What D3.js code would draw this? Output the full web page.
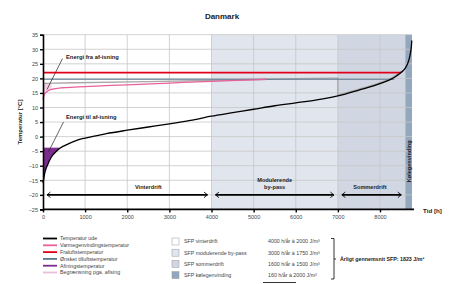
<!DOCTYPE html>
<html>
<head>
<meta charset="utf-8">
<script src="https://cdn.jsdelivr.net/npm/d3@7"></script>
<style>
  body { margin: 0; background: #fff; }
  svg { font-family: "Liberation Sans", Arial, sans-serif; }
</style>
</head>
<body>
<svg id="chart" width="457" height="284"></svg>
<script>
// Data
const HOURS = [0, 50, 100, 200, 300, 400, 600, 800, 1000, 1500, 2000, 2500, 3000, 3500, 4000, 4500, 5000, 5500, 6000, 6500, 7000, 7500, 8000, 8300, 8500, 8600, 8680, 8720, 8745, 8755];
const TEMP_UDE = [-16, -12, -10, -7, -5.3, -4, -2.5, -1.3, -0.5, 1.0, 2.2, 3.3, 4.4, 5.6, 7.0, 8.2, 9.4, 10.6, 11.6, 12.6, 14.0, 16.0, 18.2, 20.0, 22.0, 23.5, 26, 28.5, 31, 33];

const VGV_HOURS = [0, 30, 100, 200, 500, 1000, 2000, 3000, 4000, 5000, 5300];
const VGV_TEMP = [12.8, 14.5, 15.5, 16.2, 16.8, 17.2, 17.8, 18.4, 19.0, 19.5, 19.7];

const GREY_HOURS = [0, 2500, 5000, 6000, 7000];
const GREY_TEMP = [18.3, 18.9, 19.6, 19.9, 20.1];

const FRALUFT = { temp: 22, end: 8500 };
const ONSKET = { temp: 19.7, end: 8340 };
const AFISNING = { temp: -4, end: 400 };
const BEGR_END = 350;

const PERIODS = [
  { name: ['Vinterdrift'], from: 0, to: 4000, label: 2500 },
  { name: ['Modulerende', 'by-pass'], from: 4000, to: 7000, label: 5500 },
  { name: ['Sommerdrift'], from: 7000, to: 8600, label: 7760 },
];
const BANDS = [
  { from: 4000, to: 7000, fill: '#e1e5ed' },
  { from: 7000, to: 8600, fill: '#d0d7e2' },
  { from: 8600, to: 8760, fill: '#93a7be' },
];

const X_TICKS = [0, 1000, 2000, 3000, 4000, 5000, 6000, 7000, 8000];
const Y_TICKS = [-25, -20, -15, -10, -5, 0, 5, 10, 15, 20, 25, 30, 35];

const LINE_LEGEND = [
  { label: 'Temperatur ude', color: '#000' },
  { label: 'Varmegenvindingstemperatur', color: '#e8609c' },
  { label: 'Fraluftstemperatur', color: '#e2001a' },
  { label: 'Ønsket tilluftstemperatur', color: '#5b7890' },
  { label: 'Afiningstemperatur', color: '#7b2d8e' },
  { label: 'Begrænsning pga. afising', color: '#e9bddb' },
];
const SFP_LEGEND = [
  { label: 'SFP vinterdrift', fill: '#fff', value: '4000 h/år  à 2000 J/m³' },
  { label: 'SFP modulerende by-pass', fill: '#e1e5ed', value: '3000 h/år  à 1750 J/m³' },
  { label: 'SFP sommerdrift', fill: '#d0d7e2', value: '1600 h/år  à 1500 J/m³' },
  { label: 'SFP kølegenvinding', fill: '#93a7be', value: '160 h/år  à 2000 J/m³' },
];

const svg = d3.select('#chart');
const x = d3.scaleLinear([0, 8760], [43, 412]);
const y = d3.scaleLinear([-25, 35], [209.4, 34.7]);

// Shaded bands
svg.append('g').selectAll('rect').data(BANDS).join('rect')
  .attr('x', d => x(d.from)).attr('width', d => x(d.to) - x(d.from))
  .attr('y', y(35)).attr('height', y(-25) - y(35))
  .attr('fill', d => d.fill);

// Grid
const grid = svg.append('g').attr('stroke', '#c6c6c6').attr('stroke-width', 0.8);
grid.selectAll('.gx').data(X_TICKS.filter(d => d > 0)).join('line')
  .attr('x1', d => x(d)).attr('x2', d => x(d)).attr('y1', y(35)).attr('y2', y(-25));
grid.selectAll('.gy').data(Y_TICKS.filter(d => d > -25)).join('line')
  .attr('x1', x(0)).attr('x2', x(8760)).attr('y1', d => y(d)).attr('y2', d => y(d));

const ude = HOURS.map((h, i) => [h, TEMP_UDE[i]]);
const line = d3.line().x(d => x(d[0])).y(d => y(d[1])).curve(d3.curveMonotoneX);

// Begrænsning area
const vgv = VGV_HOURS.map((h, i) => [h, VGV_TEMP[i]]);
const begr = vgv.filter(d => d[0] <= BEGR_END);
svg.append('path')
  .datum(begr)
  .attr('d', d3.area().x(d => x(d[0])).y0(d => y(d[1])).y1(y(GREY_TEMP[0])).curve(d3.curveMonotoneX))
  .attr('fill', '#f3cfe3');

// Afisning area
const afis = ude.filter(d => d[0] <= AFISNING.end);
svg.append('path')
  .datum(afis)
  .attr('d', d3.area().x(d => x(d[0])).y0(d => y(d[1])).y1(y(AFISNING.temp)).curve(d3.curveMonotoneX))
  .attr('fill', '#7b2d8e');
svg.append('line')
  .attr('x1', x(0)).attr('x2', x(AFISNING.end)).attr('y1', y(AFISNING.temp)).attr('y2', y(AFISNING.temp))
  .attr('stroke', '#7b2d8e').attr('stroke-width', 1.2);

// Grey line (tilluft after recovery)
const grey = GREY_HOURS.map((h, i) => [h, GREY_TEMP[i]]);
const greyTail = ude.filter(d => d[0] >= 7000 && d[0] <= 8500).map(d => [d[0], d[1] + 0.3]);
svg.append('path')
  .attr('d', line(grey) + 'L' + x(7000) + ',' + y(greyTail[0][1]) + line(greyTail).replace(/^M/, 'L'))
  .attr('fill', 'none').attr('stroke', '#a8a8a8').attr('stroke-width', 1.4);

// Horizontal lines
svg.append('line')
  .attr('x1', x(0)).attr('x2', x(ONSKET.end)).attr('y1', y(ONSKET.temp)).attr('y2', y(ONSKET.temp))
  .attr('stroke', '#5b7890').attr('stroke-width', 1.2);
svg.append('line')
  .attr('x1', x(0)).attr('x2', x(FRALUFT.end)).attr('y1', y(FRALUFT.temp)).attr('y2', y(FRALUFT.temp))
  .attr('stroke', '#e2001a').attr('stroke-width', 1.8);

// Varmegenvinding
svg.append('path').datum(vgv).attr('d', line)
  .attr('fill', 'none').attr('stroke', '#e8609c').attr('stroke-width', 1.3);

// Outdoor temperature
svg.append('path').datum(ude).attr('d', line)
  .attr('fill', 'none').attr('stroke', '#000').attr('stroke-width', 1.3);

// Axes
const yAxis = svg.append('g').attr('transform', `translate(${x(0)},0)`)
  .call(d3.axisLeft(y).tickValues(Y_TICKS).tickFormat(d3.format('d')).tickSize(3).tickPadding(2));
const xAxis = svg.append('g').attr('transform', `translate(0,${y(-25)})`)
  .call(d3.axisBottom(x).tickValues(X_TICKS).tickFormat(d3.format('d')).tickSize(3).tickPadding(3));
[yAxis, xAxis].forEach(a => {
  a.select('.domain').attr('stroke', '#000').attr('stroke-width', 1.6);
  a.selectAll('.tick line').attr('stroke', '#000').attr('stroke-width', 1.4);
  a.selectAll('text').attr('font-size', 5.5).attr('fill', '#444').attr('font-family', 'Liberation Sans, Arial');
});
xAxis.select('.domain').attr('d', `M43,0H414`);

// Period arrows
const defs = svg.append('defs');
defs.append('marker').attr('id', 'chev').attr('viewBox', '-7 -5 8 10')
  .attr('markerWidth', 6).attr('markerHeight', 7).attr('refX', 0).attr('refY', 0)
  .attr('orient', 'auto-start-reverse').attr('markerUnits', 'userSpaceOnUse')
  .append('path').attr('d', 'M-5,-4L0,0L-5,4').attr('fill', 'none').attr('stroke', '#000').attr('stroke-width', 1.2);

const arrows = svg.append('g');
PERIODS.forEach(p => {
  arrows.append('line')
    .attr('x1', x(p.from) + 4).attr('x2', x(p.to) - 4)
    .attr('y1', y(-20)).attr('y2', y(-20))
    .attr('stroke', '#000').attr('stroke-width', 1.6)
    .attr('marker-start', 'url(#chev)').attr('marker-end', 'url(#chev)');
  p.name.forEach((t, i) => {
    arrows.append('text')
      .attr('x', x(p.label)).attr('y', y(-20) - 6 - (p.name.length - 1 - i) * 6.5)
      .attr('text-anchor', 'middle').attr('font-size', 5.6).attr('font-weight', 'bold').attr('fill', '#222')
      .text(t);
  });
});

// Kølegenvinding label
svg.append('text')
  .attr('transform', `translate(${x(8680) + 2},${y(-8.5)}) rotate(-90)`)
  .attr('text-anchor', 'middle').attr('font-size', 5.6).attr('font-weight', 'bold').attr('fill', '#222')
  .text('Kølegenvinding');

// Annotations
const ann = svg.append('g').attr('font-size', 5.8).attr('font-weight', 'bold').attr('fill', '#222');
ann.append('text').attr('x', 66).attr('y', y(26.5)).text('Energi fra af-isning');
ann.append('line').attr('x1', 62.5).attr('y1', y(26.8)).attr('x2', 47).attr('y2', y(16.2))
  .attr('stroke', '#222').attr('stroke-width', 0.7);
ann.append('text').attr('x', 66).attr('y', y(6)).text('Energi til af-isning');
ann.append('line').attr('x1', 63.5).attr('y1', y(5)).attr('x2', 48.5).attr('y2', y(-5.2))
  .attr('stroke', '#222').attr('stroke-width', 0.7);

// Titles
svg.append('text').attr('x', 222).attr('y', 19).attr('text-anchor', 'middle')
  .attr('font-size', 8).attr('font-weight', 'bold').attr('fill', '#222').text('Danmark');
svg.append('text').attr('transform', `translate(22,${y(5)}) rotate(-90)`)
  .attr('text-anchor', 'middle').attr('font-size', 6).attr('font-weight', 'bold').attr('fill', '#222')
  .text('Temperatur [°C]');
svg.append('text').attr('x', 423).attr('y', 213)
  .attr('font-size', 6.2).attr('font-weight', 'bold').attr('fill', '#222').text('Tid [h]');

// Line legend
const lg = svg.append('g').attr('font-size', 5.3).attr('fill', '#444');
LINE_LEGEND.forEach((d, i) => {
  const yy = 238.5 + i * 6.8;
  lg.append('line').attr('x1', 43).attr('x2', 57).attr('y1', yy).attr('y2', yy)
    .attr('stroke', d.color).attr('stroke-width', 1.8);
  lg.append('text').attr('x', 60).attr('y', yy + 1.8).text(d.label);
});

// SFP legend
const sg = svg.append('g').attr('font-size', 5.3).attr('fill', '#444');
SFP_LEGEND.forEach((d, i) => {
  const yy = 241.5 + i * 11.2;
  sg.append('rect').attr('x', 172).attr('y', yy - 3.5).attr('width', 7).attr('height', 7)
    .attr('fill', d.fill).attr('stroke', '#999').attr('stroke-width', 0.5);
  sg.append('text').attr('x', 184).attr('y', yy + 1.8).text(d.label);
  sg.append('text').attr('x', 268).attr('y', yy + 1.8).text(d.value);
});
sg.append('line').attr('x1', 263).attr('x2', 296).attr('y1', 282.5).attr('y2', 282.5)
  .attr('stroke', '#000').attr('stroke-width', 0.8);
sg.append('path').attr('d', 'M331,238.5H334V279H331M334,259H336')
  .attr('fill', 'none').attr('stroke', '#000').attr('stroke-width', 0.8);
sg.append('text').attr('x', 340).attr('y', 261).attr('font-weight', 'bold').attr('fill', '#222')
  .text('Årligt gennemsnit SFP: 1823 J/m³');
</script>
</body>
</html>
